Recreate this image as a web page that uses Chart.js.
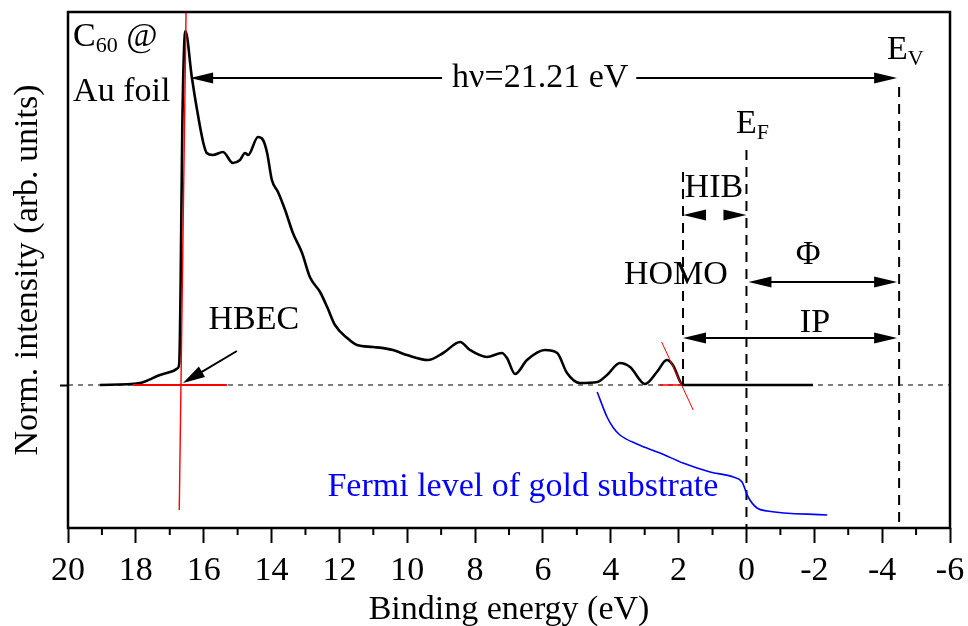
<!DOCTYPE html>
<html>
<head>
<meta charset="utf-8">
<script src="https://cdn.jsdelivr.net/npm/chart.js@4.4.1/dist/chart.umd.min.js"></script>
<style>
  body { margin: 0; background: #fff; }
</style>
</head>
<body>
<canvas id="myChart" width="968" height="626"></canvas>
<script>
// UPS spectrum of C60 on Au foil (binding energy in eV, normalised intensity)
const spectrumE = [19.06, 17.88, 17.29, 16.90, 16.76, 16.72, 16.68, 16.63, 16.54, 16.35, 16.21, 16.01, 15.91, 15.73, 15.43, 15.14, 14.93, 14.78, 14.69, 14.40, 14.25, 14.13, 13.99, 13.81, 13.60, 13.37, 13.10, 12.87, 12.57, 12.36, 12.13, 11.77, 11.48, 11.01, 10.42, 10.01, 9.39, 8.94, 8.44, 8.15, 7.65, 7.21, 7.06, 6.82, 6.47, 5.94, 5.58, 5.29, 4.91, 4.40, 4.11, 3.73, 3.43, 2.99, 2.64, 2.35, 2.17, 1.87, -1.96]
const spectrumI = [0.00, 0.02, 0.10, 0.14, 0.17, 0.22, 1.00, 2.60, 3.54, 3.08, 2.78, 2.42, 2.32, 2.30, 2.33, 2.22, 2.25, 2.32, 2.30, 2.48, 2.45, 2.32, 2.05, 1.93, 1.75, 1.52, 1.32, 1.08, 0.93, 0.78, 0.60, 0.47, 0.40, 0.38, 0.35, 0.30, 0.25, 0.32, 0.43, 0.35, 0.28, 0.32, 0.27, 0.11, 0.25, 0.35, 0.32, 0.12, 0.02, 0.03, 0.10, 0.22, 0.18, 0.01, 0.13, 0.25, 0.20, 0.00, 0.00]

// Fermi edge of the clean gold substrate
const fermiE = [4.40, 4.11, 3.92, 3.73, 3.23, 2.55, 1.87, 1.07, 0.39, 0.13, -0.05, -0.31, -0.61, -2.38]
const fermiI = [-0.07, -0.32, -0.43, -0.50, -0.59, -0.68, -0.78, -0.87, -0.92, -0.97, -1.12, -1.23, -1.26, -1.30]

// tangent lines used for the cut-off / onset extrapolation
const cutoffLineE = [16.52, 16.72]
const cutoffLineI = [3.73, -1.25]
const cutoffBaseE = [18.08, 15.31]
const cutoffBaseI = [0, 0]
const onsetLineE = [2.50, 1.57]
const onsetLineI = [0.43, -0.25]
const onsetBaseE = [2.55, 0]
const onsetBaseI = [0, 0]

// energies of the marked levels
const cutoffE = 16.40
const homoE = 1.87
const fermiLevelE = 0
const vacuumE = -4.5

// axes
const xMin = -6
const xMax = 20
const xMajorStep = 2
const yMin = -1.43
const yMax = 3.73

const serif = '"Liberation Serif", "Times New Roman", serif'
const big = '34px ' + serif
const small = '22px ' + serif

function pts (xs, ys) {
  return xs.map((x, i) => ({ x: x, y: ys[i] }))
}

function head (ctx, x, y, dir) {
  ctx.beginPath()
  ctx.moveTo(x, y)
  ctx.lineTo(x - dir * 23, y - 5.5)
  ctx.lineTo(x - dir * 23, y + 5.5)
  ctx.closePath()
  ctx.fill()
}

function dimArrow (ctx, x1, x2, y) {
  ctx.beginPath()
  ctx.moveTo(x1 + 10, y)
  ctx.lineTo(x2 - 10, y)
  ctx.stroke()
  head(ctx, x1, y, -1)
  head(ctx, x2, y, 1)
}

function subText (ctx, main, sub, x, y) {
  ctx.font = big
  ctx.textAlign = 'left'
  ctx.fillText(main, x, y)
  const w = ctx.measureText(main).width
  ctx.font = small
  ctx.fillText(sub, x + w, y + 9)
  return x + w + ctx.measureText(sub).width
}

const extras = {
  id: 'extras',
  afterDatasetsDraw (chart) {
    const ctx = chart.ctx
    const X = v => chart.scales.x.getPixelForValue(v)
    const Y = v => chart.scales.y.getPixelForValue(v)
    ctx.save()
    ctx.fillStyle = '#000'
    ctx.strokeStyle = '#000'
    ctx.lineWidth = 2
    ctx.textBaseline = 'middle'

    // photon energy arrow with label in the gap
    ctx.font = big
    const hvText = 'h\u03bd=21.21 eV'
    const hvX = X(6.08)
    const hvY = Y(3.07)
    const hw = ctx.measureText(hvText).width / 2
    ctx.beginPath()
    ctx.moveTo(X(cutoffE) + 10, hvY)
    ctx.lineTo(hvX - hw - 10, hvY)
    ctx.moveTo(hvX + hw + 8, hvY)
    ctx.lineTo(X(vacuumE) - 10, hvY)
    ctx.stroke()
    head(ctx, X(cutoffE), hvY, -1)
    head(ctx, X(vacuumE) - 2, hvY, 1)
    ctx.textAlign = 'center'
    ctx.fillText(hvText, hvX, hvY)

    // HIB: two inward heads
    head(ctx, X(homoE), Y(1.70), -1)
    head(ctx, X(fermiLevelE), Y(1.70), 1)
    // work function and ionisation potential
    dimArrow(ctx, X(fermiLevelE) + 2, X(vacuumE) - 2, Y(1.03))
    dimArrow(ctx, X(homoE), X(vacuumE) - 2, Y(0.47))

    // HBEC pointer
    const tx = X(16.61), ty = Y(0.02)
    const sx = X(15.02), sy = Y(0.34)
    const ang = Math.atan2(ty - sy, tx - sx)
    ctx.beginPath()
    ctx.moveTo(sx, sy)
    ctx.lineTo(tx - Math.cos(ang) * 18, ty - Math.sin(ang) * 18)
    ctx.stroke()
    ctx.save()
    ctx.translate(tx, ty)
    ctx.rotate(ang)
    ctx.beginPath()
    ctx.moveTo(0, 0)
    ctx.lineTo(-22, -6)
    ctx.lineTo(-22, 6)
    ctx.closePath()
    ctx.fill()
    ctx.restore()

    // labels
    ctx.font = big
    ctx.textAlign = 'center'
    ctx.fillText('HIB', X(0.96), Y(1.97))
    ctx.fillText('HOMO', X(2.08), Y(1.10))
    ctx.fillText('\u03a6', X(-1.82), Y(1.30))
    ctx.fillText('IP', X(-2.02), Y(0.62))
    ctx.fillText('HBEC', X(14.52), Y(0.65))
    ctx.textAlign = 'left'
    ctx.fillText('Au foil', X(19.85), Y(2.93))
    const cEnd = subText(ctx, 'C', '60', X(19.85), Y(3.48))
    ctx.font = big
    ctx.fillText(' @', cEnd, Y(3.48))
    subText(ctx, 'E', 'V', X(-4.14), Y(3.35))
    subText(ctx, 'E', 'F', X(0.31), Y(2.61))

    ctx.fillStyle = '#0000ff'
    ctx.font = big
    ctx.textAlign = 'center'
    ctx.fillText('Fermi level of gold substrate', X(6.59), Y(-1.02))
    ctx.restore()
  },
  afterDraw (chart) {
    const ctx = chart.ctx
    const a = chart.chartArea
    const xs = chart.scales.x
    ctx.save()
    ctx.strokeStyle = '#000'
    ctx.lineWidth = 2
    ctx.beginPath()
    for (let v = xMin + 1; v < xMax; v += xMajorStep) {
      const x = xs.getPixelForValue(v)
      ctx.moveTo(x, a.bottom)
      ctx.lineTo(x, a.bottom + 7)
    }
    ctx.stroke()
    ctx.lineWidth = 2.5
    ctx.strokeRect(a.left, a.top, a.right - a.left, a.bottom - a.top)
    ctx.restore()
  }
}

const ctx = document.getElementById('myChart').getContext('2d')
new Chart(ctx, {
  type: 'scatter',
  data: {
    datasets: [
      { label: 'C60', data: pts(spectrumE, spectrumI), borderColor: '#000', borderWidth: 2.6, cubicInterpolationMode: 'monotone', order: 3 },
      { label: 'Au', data: pts(fermiE, fermiI), borderColor: '#0000ff', borderWidth: 1.6, cubicInterpolationMode: 'monotone', order: 5 },
      { label: 'cutoff', data: pts(cutoffLineE, cutoffLineI), borderColor: '#ff0000', borderWidth: 1.4, order: 1 },
      { label: 'cutoff base', data: pts(cutoffBaseE, cutoffBaseI), borderColor: '#ff0000', borderWidth: 2, order: 1 },
      { label: 'onset', data: pts(onsetLineE, onsetLineI), borderColor: '#ff0000', borderWidth: 1, order: 1 },
      { label: 'onset base', data: pts(onsetBaseE, onsetBaseI), borderColor: '#ff0000', borderWidth: 1.5, order: 4 },
      { label: 'zero', data: pts([xMax, xMin], [0, 0]), borderColor: '#000', borderWidth: 1, borderDash: [5, 5], order: 10 },
      { label: 'HOMO', data: pts([homoE, homoE], [2.13, 0]), borderColor: '#000', borderWidth: 2, borderDash: [10, 7], order: 9 },
      { label: 'EF', data: pts([fermiLevelE, fermiLevelE], [2.35, yMin]), borderColor: '#000', borderWidth: 2, borderDash: [10, 7], order: 9 },
      { label: 'EV', data: pts([vacuumE, vacuumE], [2.98, yMin]), borderColor: '#000', borderWidth: 2, borderDash: [10, 7], order: 9 }
    ].map(d => Object.assign({ showLine: true, pointRadius: 0, fill: false }, d))
  },
  options: {
    responsive: false,
    animation: false,
    devicePixelRatio: 1,
    layout: { padding: { top: 12, right: 18, left: 0, bottom: 0 } },
    plugins: { legend: { display: false }, tooltip: { enabled: false } },
    scales: {
      x: {
        type: 'linear',
        reverse: true,
        min: xMin,
        max: xMax,
        afterBuildTicks: scale => {
          const t = []
          for (let v = xMin; v <= xMax; v += xMajorStep) t.push({ value: v })
          scale.ticks = t
        },
        afterFit: scale => { scale.height = 98 },
        border: { display: false },
        grid: { drawOnChartArea: false, tickLength: 15, tickWidth: 2, tickColor: '#000' },
        ticks: {
          autoSkip: false,
          maxRotation: 0,
          padding: 8,
          color: '#000',
          font: { family: serif, size: 34 },
          callback: v => String(v)
        },
        title: {
          display: true,
          text: 'Binding energy (eV)',
          color: '#000',
          font: { family: serif, size: 34 },
          padding: { top: 0, bottom: -4 }
        }
      },
      y: {
        min: yMin,
        max: yMax,
        afterBuildTicks: scale => { scale.ticks = [{ value: 0 }] },
        afterFit: scale => { scale.width = 68 },
        border: { display: false },
        grid: { drawOnChartArea: false, tickLength: 8, tickWidth: 2, tickColor: '#000' },
        ticks: { callback: () => '' },
        title: {
          display: true,
          text: 'Norm. intensity (arb. units)',
          color: '#000',
          font: { family: serif, size: 34 },
          padding: { top: 8, bottom: 0 }
        }
      }
    }
  },
  plugins: [extras]
})
</script>
</body>
</html>
